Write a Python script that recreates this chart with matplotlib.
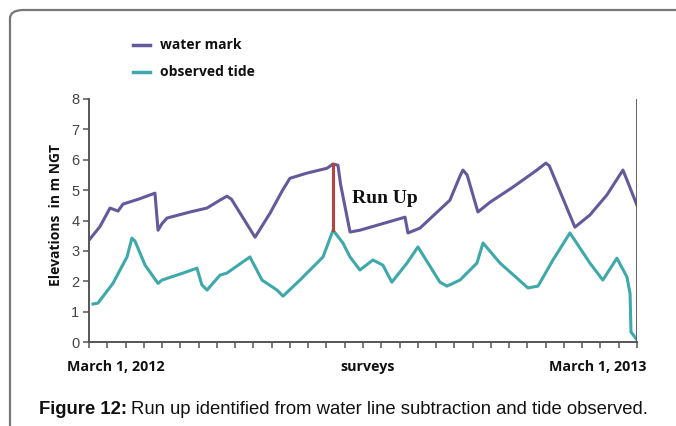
import numpy as np
import matplotlib.pyplot as plt
from matplotlib.patches import FancyBboxPatch

# -------------------------------
# Values (x in survey steps 0..30, y in m NGT)
# -------------------------------
mark_x = [0.05, 0.6, 1.15, 1.59, 1.86, 2.7, 3.61, 3.78, 4.0, 4.27, 5.53, 6.46,
          7.17, 7.55, 7.8, 9.09, 9.91, 10.6, 11.0, 11.93, 13.03, 13.36, 13.63,
          13.77, 14.29, 14.83, 17.3, 17.46, 18.12, 19.76, 20.3, 20.47, 20.7,
          21.29, 21.95, 23.21, 24.52, 25.01, 25.2, 26.6, 27.42, 28.35, 29.23,
          29.5, 30.0]
mark_y = [3.39, 3.8, 4.41, 4.31, 4.54, 4.7, 4.9, 3.68, 3.9, 4.08, 4.28, 4.41,
          4.67, 4.8, 4.7, 3.45, 4.24, 5.0, 5.39, 5.56, 5.72, 5.86, 5.82,
          5.2, 3.62, 3.68, 4.11, 3.59, 3.75, 4.67, 5.45, 5.66, 5.5,
          4.28, 4.6, 5.1, 5.66, 5.89, 5.8, 3.78, 4.18, 4.84, 5.66,
          5.26, 4.5]

tide_x = [0.22, 0.49, 1.31, 2.08, 2.35, 2.52, 3.07, 3.78, 4.0, 5.15, 5.91,
          6.18, 6.46, 7.17, 7.55, 8.81, 9.47, 10.29, 10.62, 11.55, 12.81,
          13.36, 13.9, 14.29, 14.83, 15.54, 16.09, 16.58, 17.41, 18.01, 19.21,
          19.6, 20.31, 21.24, 21.57, 22.5, 24.03, 24.58, 25.4, 26.33, 27.42,
          28.13, 28.9, 29.45, 29.62, 29.67, 30.0]
tide_y = [1.25, 1.28, 1.93, 2.8, 3.42, 3.32, 2.53, 1.93, 2.04, 2.27, 2.43,
          1.88, 1.71, 2.2, 2.27, 2.8, 2.04, 1.71, 1.51, 2.04, 2.8,
          3.68, 3.26, 2.8, 2.37, 2.7, 2.53, 1.97, 2.6, 3.13, 1.97,
          1.84, 2.04, 2.6, 3.26, 2.6, 1.78, 1.84, 2.7, 3.59, 2.6,
          2.04, 2.76, 2.14, 1.6, 0.33, 0.07]

runup_x = 13.36
runup_low, runup_high = 3.68, 5.86

x_labels = ["March 1, 2012", "surveys", "March 1, 2013"]
y_ticks = list(range(0, 9))

purple = "#65599b"
teal = "#3ea8ab"
red = "#b5433f"

W, H = 676, 426
fig = plt.figure(figsize=(W / 100, H / 100), dpi=100)

def fx(px):
    return px / W

def fy(py):
    return 1 - py / H

# frame round the figure (rounded top-left corner)
frame = FancyBboxPatch((fx(10), fy(440)), fx(700), fy(10) - fy(440),
                       boxstyle="round,pad=0,rounding_size=0.02",
                       transform=fig.transFigure, fill=False,
                       edgecolor="#777777", linewidth=1.6)
fig.patches.append(frame)

ax = fig.add_axes([fx(89), fy(342), fx(637) - fx(89), fy(99) - fy(342)])
ax.plot(mark_x, mark_y, color=purple, linewidth=2.2, solid_joinstyle="round")
ax.plot(tide_x, tide_y, color=teal, linewidth=2.2, solid_joinstyle="round")
ax.plot([runup_x, runup_x], [runup_low, runup_high], color=red, linewidth=2.2)
ax.axvline(30, color="#555555", linewidth=1.3)

ax.set_xlim(0, 30)
ax.set_ylim(0, 8)
ax.set_xticks(range(0, 31))
ax.set_xticklabels([])
ax.set_yticks(y_ticks)
ax.tick_params(axis="y", colors="#555555", labelsize=10.5, length=4, width=1.1,
               pad=3, labelcolor="#444444")
ax.tick_params(axis="x", colors="#555555", length=4, width=1.1)
for s in ["top", "right"]:
    ax.spines[s].set_visible(False)
for s in ["left", "bottom"]:
    ax.spines[s].set_color("#555555")
    ax.spines[s].set_linewidth(1.4)
for lab in ax.get_yticklabels():
    lab.set_fontfamily("Liberation Sans")

ax.text(14.4, 4.74, "Run Up", fontfamily="Liberation Serif", fontweight="bold",
        fontsize=14, color="#111111", ha="left", va="center")

# legend drawn by hand at the top
fig.add_artist(plt.Line2D([fx(133), fx(150)], [fy(45), fy(45)], color=purple,
                          linewidth=2.5, transform=fig.transFigure))
fig.add_artist(plt.Line2D([fx(133), fx(150)], [fy(72), fy(72)], color=teal,
                          linewidth=2.5, transform=fig.transFigure))
fig.text(fx(160), fy(45), "water mark", fontfamily="Open Sans",
         fontweight="bold", fontsize=10, va="center", color="#111111")
fig.text(fx(160), fy(72), "observed tide", fontfamily="Open Sans",
         fontweight="bold", fontsize=10, va="center", color="#111111")

# axis labels
fig.text(fx(56), fy(215), "Elevations  in m NGT", fontfamily="Open Sans",
         fontweight="bold", fontsize=10, rotation=90, ha="center",
         va="center", color="#111111")
for px, lab in zip([116, 368, 598], x_labels):
    fig.text(fx(px), fy(367), lab, fontfamily="Open Sans", fontweight="bold",
             fontsize=10.3, ha="center", va="center", color="#111111")

# caption: bold part, then the rest placed right after it
cap_bold = fig.text(fx(39), fy(410), "Figure 12:", fontfamily="Liberation Sans",
                    fontweight="bold", fontsize=13.3, va="center",
                    color="#111111")
renderer = fig.canvas.get_renderer()
bold_end = cap_bold.get_window_extent(renderer).x1
fig.text((bold_end + 4) / W, fy(410),
         "Run up identified from water line subtraction and tide observed.",
         fontfamily="Liberation Sans", fontsize=13.3, va="center",
         color="#111111")

fig.savefig("out.png", dpi=100)
